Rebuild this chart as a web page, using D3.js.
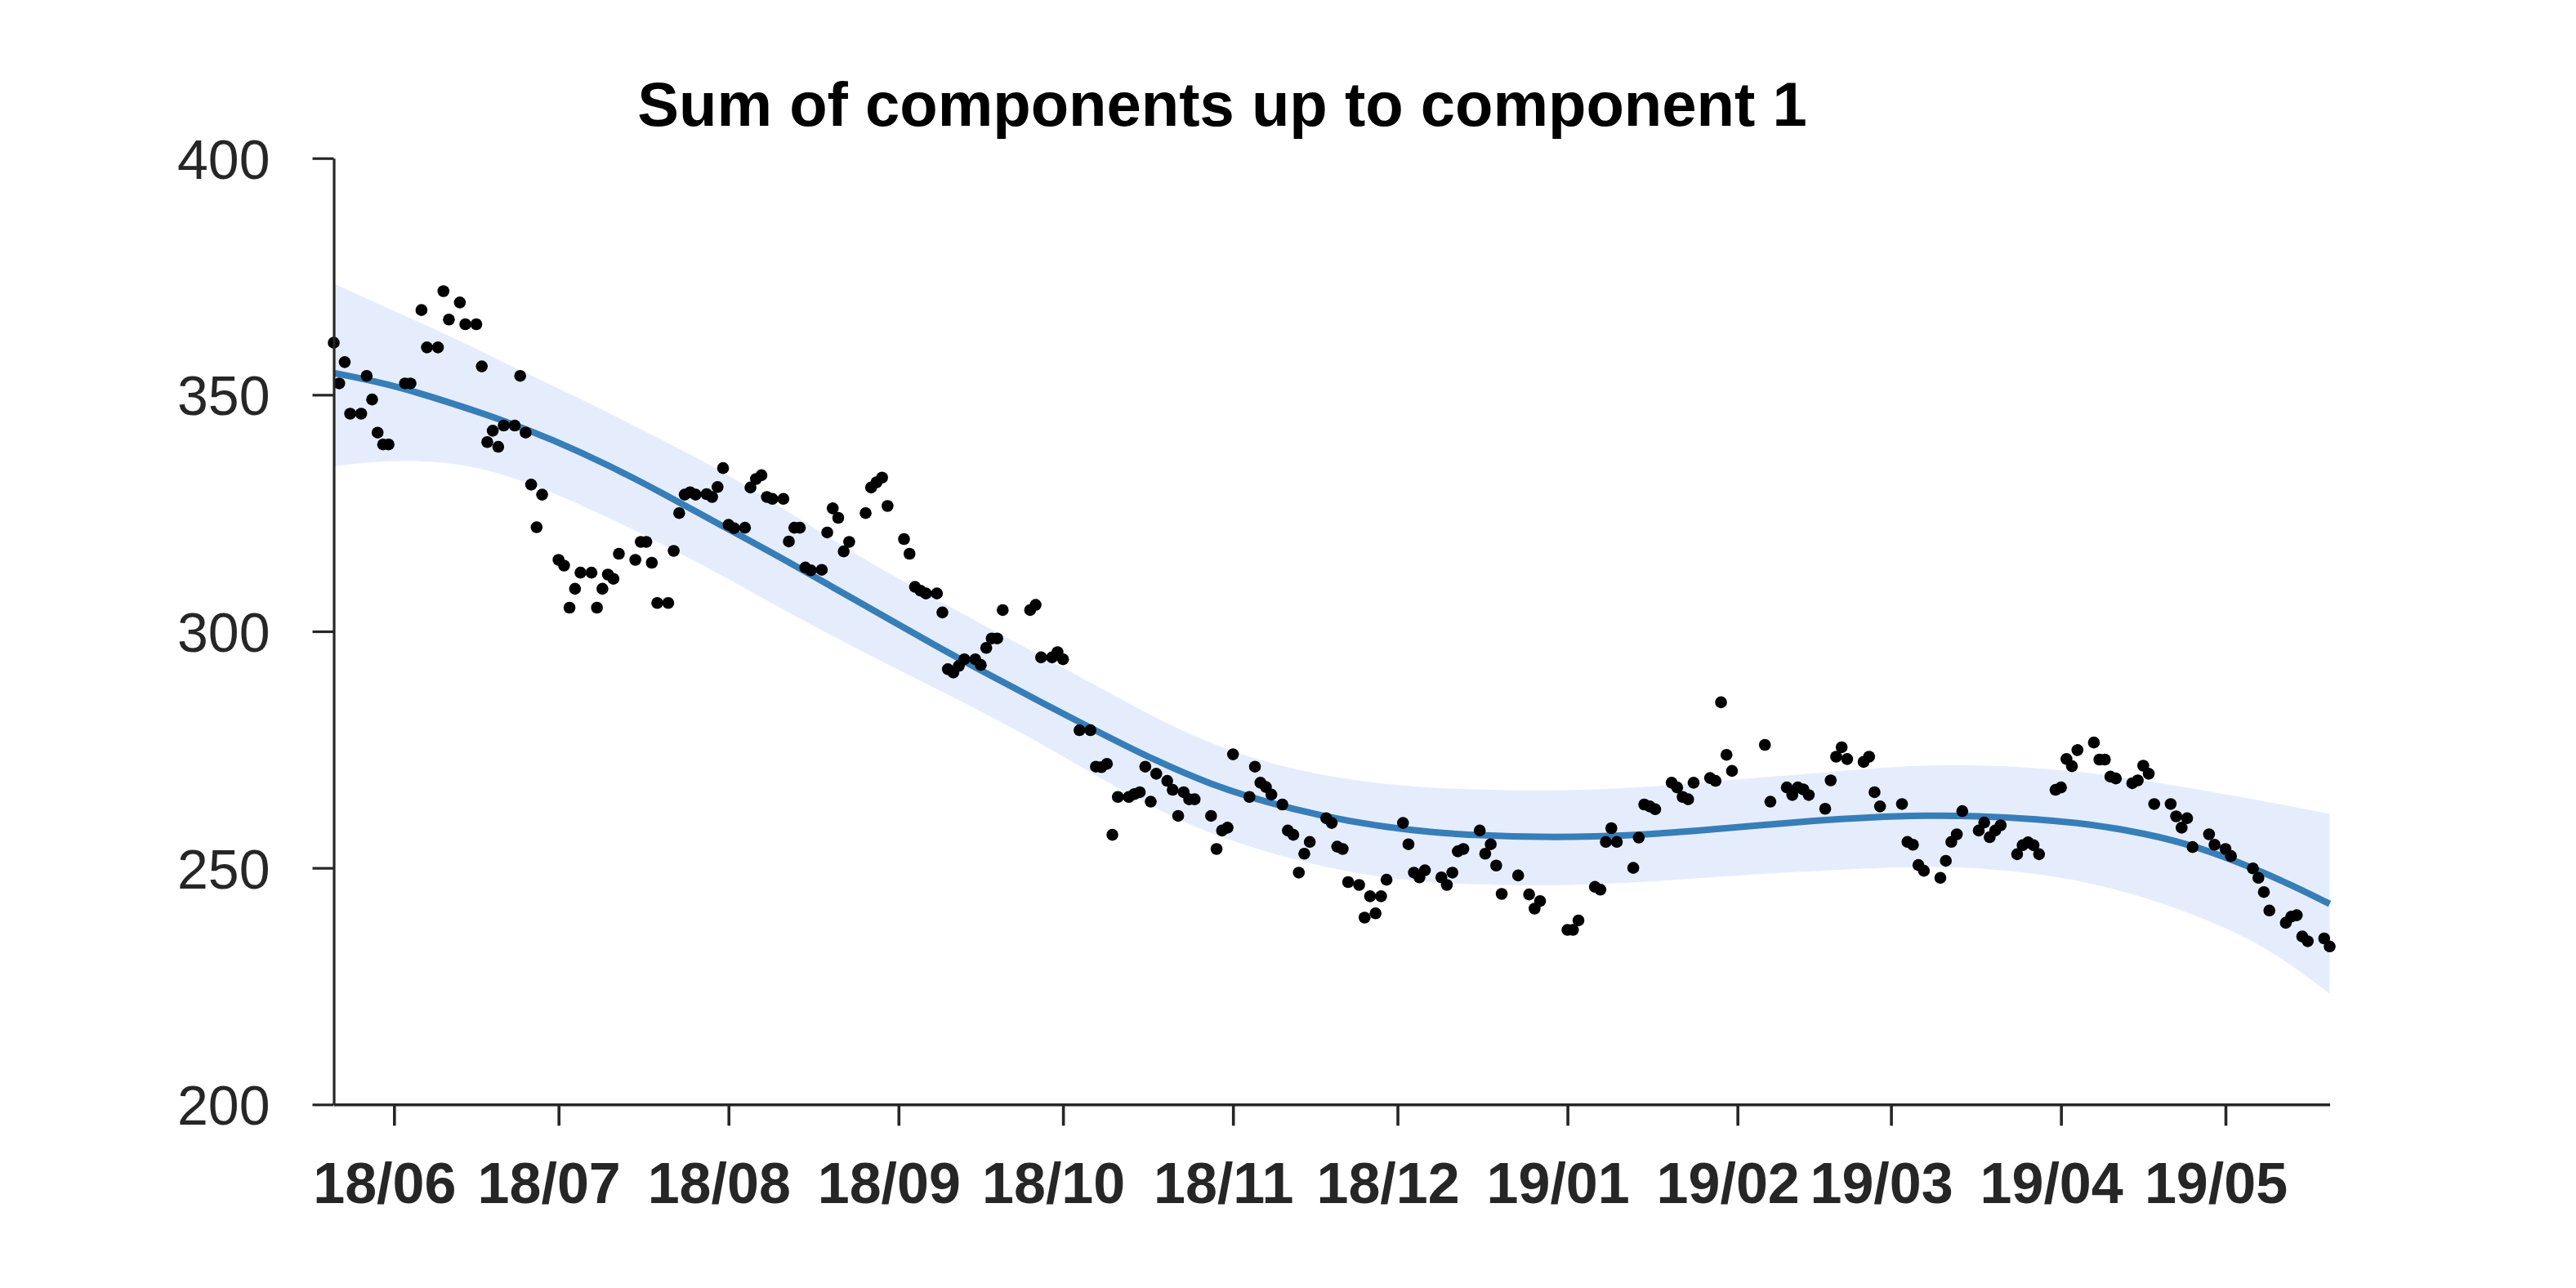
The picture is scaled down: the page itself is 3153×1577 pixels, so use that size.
<!DOCTYPE html>
<html><head><meta charset="utf-8">
<script src="https://cdn.jsdelivr.net/npm/d3@7"></script>
<style>html,body{margin:0;padding:0;background:#fff;} svg{display:block;}</style>
</head><body>
<svg id="chart" width="3153" height="1577"></svg>
<script>
// ---------- data ----------
const startDate = "2018-05-21";
const titleText = "Sum of components up to component 1";

// observation day offsets from startDate
const dayIndex = [0,1,2,3,5,6,7,8,9,10,13,14,16,17,19,20,21,23,24,26,27,28,29,30,31,33,34,35,36,37,38,41,42,43,44,45,47,48,49,50,51,52,55,56,57,58,59,61,62,63,64,65,66,68,69,70,71,72,73,75,76,77,78,79,80,82,83,84,85,86,87,89,90,91,92,93,94,97,98,99,100,101,104,105,106,107,108,110,111,112,113,114,115,117,118,119,120,121,122,127,128,129,131,132,133,136,138,139,140,141,142,143,145,146,147,148,149,150,152,153,154,155,156,157,160,161,162,163,164,167,168,169,170,171,173,174,175,176,177,178,181,182,183,184,185,187,188,189,190,191,192,195,196,197,198,199,202,203,204,205,206,209,210,211,212,213,216,218,219,220,225,226,227,230,231,232,233,234,237,238,239,240,241,244,245,246,247,248,251,252,253,254,255,261,262,265,266,267,268,269,272,273,274,275,276,279,280,281,282,286,287,288,289,290,293,294,295,296,297,300,301,302,303,304,307,308,309,310,311,314,315,316,317,318,321,322,323,324,325,328,329,330,331,332,335,336,337,338,339,342,343,345,346,350,351,352,353,356,357,358,359,360,363,364];

const values = [361.0,352.4,356.9,346.0,346.0,354.0,349.0,342.0,339.5,339.5,352.4,352.4,367.9,360.0,360.0,371.9,365.9,369.5,364.9,364.9,356.0,340.0,342.4,339.0,343.5,343.5,354.0,342.0,331.0,322.0,328.9,315.1,313.9,305.0,309.0,312.4,312.4,305.0,309.0,312.0,311.1,316.4,315.1,318.9,318.9,314.5,306.0,306.0,317.0,325.0,328.9,329.4,328.9,329.0,328.4,330.5,334.5,322.5,321.8,321.9,330.4,332.2,333.0,328.4,328.0,328.0,319.0,321.9,321.9,313.5,312.9,313.0,320.9,326.0,324.0,316.9,318.9,325.0,330.4,331.5,332.5,326.5,319.5,316.4,309.4,308.6,308.0,308.0,304.0,292.0,291.3,292.7,294.1,294.1,292.9,296.5,298.5,298.5,304.5,304.5,305.6,294.5,294.5,295.6,294.1,279.1,279.1,271.4,271.3,272.0,257.0,265.0,265.0,265.6,266.0,271.4,264.0,269.9,268.4,266.5,261.0,266.0,264.5,264.5,261.0,254.0,257.9,258.5,274.0,265.0,271.4,268.0,267.1,265.5,263.4,257.9,257.0,249.0,253.0,255.5,260.5,259.5,254.5,254.0,247.0,246.4,239.5,244.0,240.4,244.0,247.5,259.5,255.0,249.0,248.0,249.5,248.0,246.4,249.0,253.5,254.0,257.9,253.0,255.0,250.5,244.5,248.4,244.4,241.4,243.0,236.9,236.9,238.9,246.0,245.4,255.5,258.4,255.5,250.0,256.4,263.4,263.0,262.4,268.0,267.0,265.0,264.5,268.0,269.0,268.4,285.0,273.9,270.5,276.0,264.0,267.0,265.4,267.0,266.6,265.4,262.5,268.5,273.5,275.5,273.0,272.4,273.5,266.0,263.0,263.5,255.5,254.9,250.6,249.4,247.9,251.5,255.5,257.1,262.0,257.9,259.6,256.5,257.9,259.0,252.9,254.8,255.4,254.8,252.9,266.5,267.0,273.0,271.5,274.9,276.5,272.9,272.9,269.3,268.9,267.9,268.5,271.6,269.9,263.5,263.5,260.9,258.5,260.5,254.4,257.1,254.9,254.0,252.5,249.9,247.9,244.9,241.0,238.4,239.7,240.0,235.5,234.5,235.1,233.4];

// smooth component (fitted curve)
const fitDays   = [0,10,20,30,40,50,60,70,80,90,100,110,120,130,140,150,160,170,180,190,200,210,220,230,240,250,260,270,280,290,300,310,320,330,340,350,357,364];
const fitValues = [354.6,352.3,348.8,345.0,340.5,335.2,329.2,322.8,316.6,310.0,303.4,296.8,290.5,284.4,278.4,272.6,267.6,263.9,261.0,258.9,257.5,256.8,256.5,256.6,257.1,258.0,259.0,260.0,260.7,261.1,261.0,260.4,259.3,257.4,254.5,250.0,246.4,242.4];

// uncertainty band
const bandDays  = [0,10,20,30,45,60,70,82,97,112,127,140,154,168,183,198,213,225,240,255,270,286,300,316,331,346,355,364];
const bandUpper = [373.5,368.2,363.1,357.4,349.2,340.4,334.4,326.0,314.9,305.4,296.0,288.0,279.0,272.7,268.8,266.9,266.4,266.3,267.1,268.6,270.0,271.6,271.9,270.8,268.4,265.4,263.5,261.4];
const bandLower = [334.9,336.2,335.9,333.9,327.0,318.4,312.4,304.5,295.3,286.7,277.7,268.8,259.8,253.9,249.4,246.9,246.3,246.3,247.0,248.4,249.3,250.3,250.2,248.1,243.8,237.1,231.3,223.4];

const yTicks = [200,250,300,350,400];
const monthTicks = ["2018-06-01","2018-07-01","2018-08-01","2018-09-01","2018-10-01","2018-11-01","2018-12-01","2019-01-01","2019-02-01","2019-03-01","2019-04-01","2019-05-01"];

// ---------- drawing ----------
const parse = d3.timeParse("%Y-%m-%d");
const t0 = parse(startDate);
const toDate = d => d3.timeDay.offset(t0, d);

const svg = d3.select("#chart");
const axisColor = "#262626";
const font = "'Liberation Sans', Arial, Helvetica, sans-serif";

const x = d3.scaleTime().domain([toDate(0), toDate(364)]).range([408.5, 2851.5]);
const y = d3.scaleLinear().domain([200, 400]).range([1352.3, 193.7]);

// band
const band = bandDays.map((d, i) => ({d, hi: bandUpper[i], lo: bandLower[i]}));
svg.append("path")
  .datum(band)
  .attr("fill", "#e5edfd")
  .attr("stroke", "none")
  .attr("d", d3.area().curve(d3.curveBasis)
    .x(p => x(toDate(p.d))).y0(p => y(p.lo)).y1(p => y(p.hi)));

// fitted line
const fit = fitDays.map((d, i) => ({d, v: fitValues[i]}));
svg.append("path")
  .datum(fit)
  .attr("fill", "none")
  .attr("stroke", "#377eb8")
  .attr("stroke-width", 8)
  .attr("d", d3.line().curve(d3.curveBasis)
    .x(p => x(toDate(p.d))).y(p => y(p.v)));

// points
const pts = dayIndex.map((d, i) => ({d, v: values[i]}));
svg.append("g").selectAll("circle").data(pts).join("circle")
  .attr("cx", p => x(toDate(p.d)))
  .attr("cy", p => y(p.v))
  .attr("r", 7.3)
  .attr("fill", "#000");

// y axis
const gy = svg.append("g")
  .attr("transform", `translate(${x.range()[0]},0)`)
  .call(d3.axisLeft(y).tickValues(yTicks).tickSize(26).tickSizeOuter(0).tickPadding(52));
gy.select(".domain").attr("stroke", axisColor).attr("stroke-width", 3.2);
gy.selectAll(".tick line").attr("stroke", axisColor).attr("stroke-width", 3.2);
gy.selectAll(".tick text")
  .attr("fill", axisColor)
  .attr("font-family", font)
  .attr("font-size", 68)
  .attr("dy", "0.36em");

// x axis
const gx = svg.append("g")
  .attr("transform", `translate(0,${y(200)})`)
  .call(d3.axisBottom(x).tickValues(monthTicks.map(parse))
    .tickFormat(d3.timeFormat("%y/%m")).tickSize(26).tickSizeOuter(0).tickPadding(45));
gx.select(".domain").attr("stroke", axisColor).attr("stroke-width", 3.6);
gx.selectAll(".tick line").attr("stroke", axisColor).attr("stroke-width", 3.6);
gx.selectAll(".tick text")
  .attr("fill", axisColor)
  .attr("font-family", font)
  .attr("font-weight", "bold")
  .attr("font-size", 70)
  .attr("dx", -12);

// title
svg.append("text")
  .attr("x", 1496).attr("y", 154)
  .attr("text-anchor", "middle")
  .attr("font-family", font)
  .attr("font-weight", "bold")
  .attr("font-size", 76)
  .attr("fill", "#000")
  .text(titleText);
</script>
</body></html>
